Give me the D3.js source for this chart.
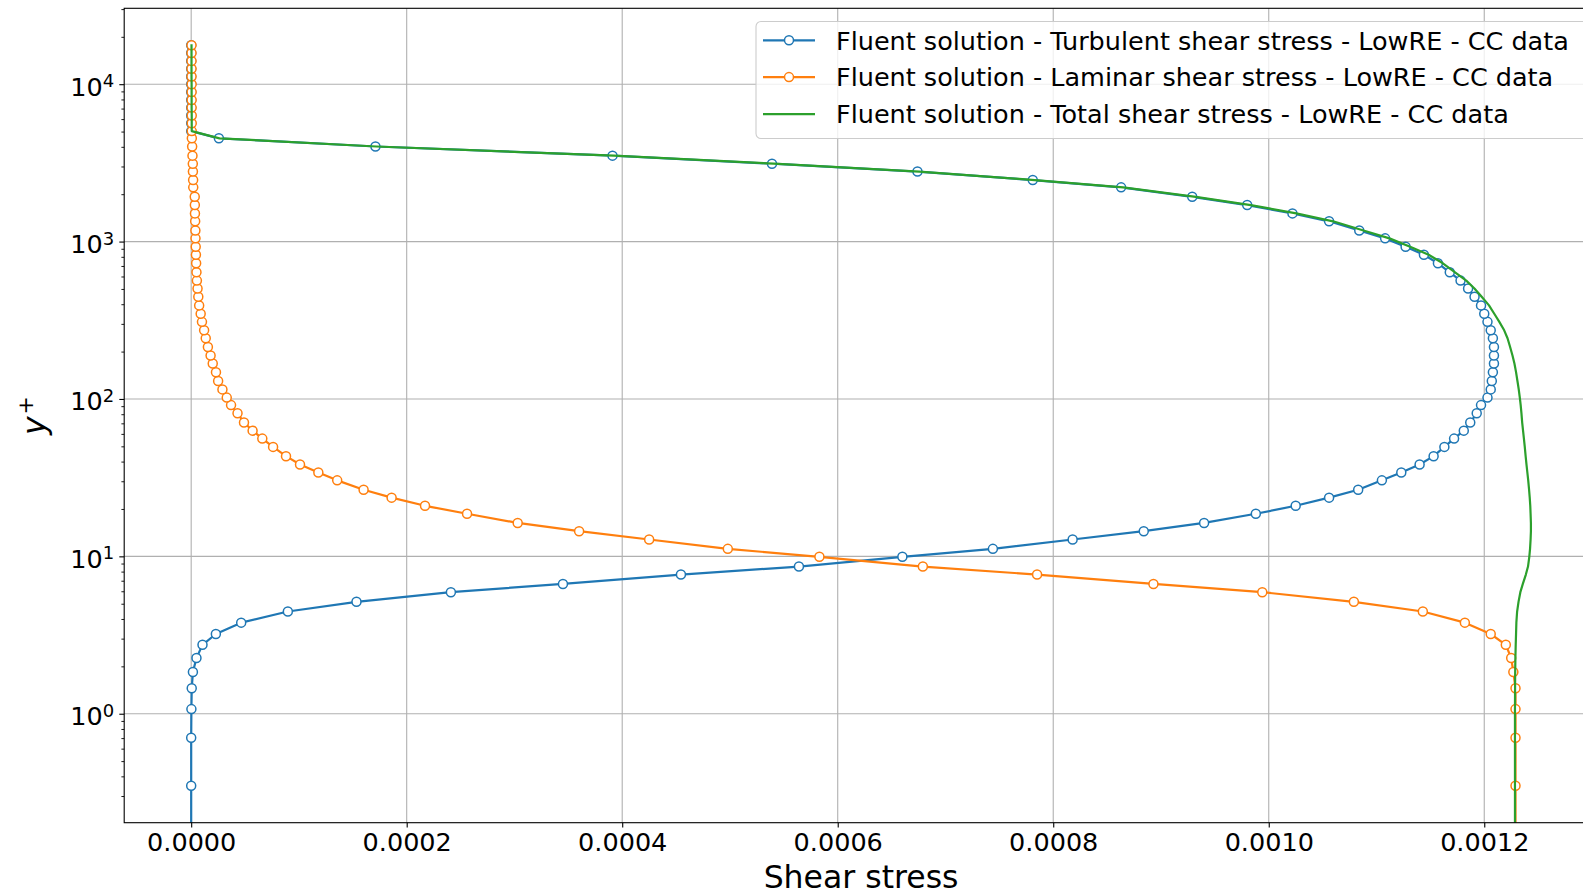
<!DOCTYPE html>
<html>
<head>
<meta charset="utf-8">
<script src="https://cdn.jsdelivr.net/npm/d3@7"></script>
<style>
  body { margin: 0; background: #fff; }
  svg { display: block; font-family: "DejaVu Sans", sans-serif; }
</style>
</head>
<body>
<div id="chart"></div>
<script>
// y+ of the cell centres (same grid for every series), first entry is the wall
var yPlus = [
  0,
  0.349, 0.704, 1.07, 1.45, 1.84, 2.26, 2.74, 3.21, 3.79, 4.46,
  5.14, 5.92, 6.68, 7.66, 8.61, 9.93, 11.16, 12.8, 14.45, 16.3,
  18.65, 20.95, 23.6, 26.5, 30.4, 34.1, 38.3, 43.3, 49.6, 56.0,
  62.9, 70.8, 81.2, 91.4, 102, 115, 130, 148, 168, 189,
  214, 243, 273, 309, 348, 393, 446, 503, 565, 638,
  728, 825, 927, 1048, 1175, 1345, 1510, 1706, 1925, 2210,
  2460, 2785, 3125, 3515, 4020, 4530,
  5035, 5645, 6330, 7100, 7945, 8910, 9980, 11190, 12530, 14060, 15780, 17660
];

// Turbulent shear stress
var turbulent = [
  0,
  0, 0, 0.0000002, 0.0000005, 0.0000016, 0.0000049, 0.0000105, 0.0000229, 0.0000464, 0.0000897,
  0.0001534, 0.000241, 0.000345, 0.0004545, 0.000564, 0.00066, 0.000744, 0.000818, 0.000884, 0.00094,
  0.000988, 0.001025, 0.001056, 0.001083, 0.001105, 0.001123, 0.00114, 0.001153, 0.001163, 0.001172,
  0.001181, 0.001187, 0.001193, 0.001197, 0.001203, 0.001206, 0.001207, 0.001208, 0.001209, 0.001209,
  0.001209, 0.001208, 0.001206, 0.001203, 0.0012, 0.001197, 0.001191, 0.001185, 0.001178, 0.001168,
  0.001157, 0.001144, 0.001127, 0.001108, 0.001084, 0.001056, 0.001022, 0.00098, 0.000929, 0.000863,
  0.000781, 0.000674, 0.000539, 0.000391, 0.000171, 0.0000257,
  0, 0, 0, 0, 0, 0, 0, 0, 0, 0, 0, 0
];

// Laminar shear stress
var laminar = [
  0.001229,
  0.001229, 0.001229, 0.001229, 0.001229, 0.001227, 0.001225, 0.00122, 0.001206, 0.001182, 0.001143,
  0.001079, 0.000994, 0.000893, 0.000785, 0.000679, 0.000583, 0.000498, 0.000425, 0.00036, 0.000303,
  0.000256, 0.000217, 0.000186, 0.00016, 0.0001355, 0.000118, 0.000101, 0.000088, 0.000076, 0.000066,
  0.000057, 0.000049, 0.000043, 0.000037, 0.000033, 0.000029, 0.000025, 0.000023, 0.00002, 0.000018,
  0.0000155, 0.0000135, 0.000012, 0.00001, 0.0000088, 0.0000074, 0.0000066, 0.0000059, 0.0000053, 0.0000049,
  0.0000046, 0.0000044, 0.0000042, 0.000004, 0.0000039, 0.0000037, 0.0000035, 0.0000034, 0.0000033, 0.0000019,
  0.0000018, 0.0000016, 0.0000015, 0.0000012, 0.0000009, 0.0000006,
  0.0000005, 0.0000005, 0.0000005, 0.0000004, 0.0000004, 0.0000004, 0.0000004, 0.0000003, 0.0000003, 0.0000003, 0.0000003, 0.0000003
];

// Total shear stress
var total = [
  0.0012285,
  0.0012285, 0.0012285, 0.0012285, 0.0012286, 0.0012287, 0.0012289, 0.0012292, 0.0012295, 0.0012298, 0.0012305,
  0.0012318, 0.0012335, 0.0012358, 0.0012386, 0.0012406, 0.0012418, 0.0012425, 0.001243, 0.0012433, 0.0012433,
  0.001243, 0.0012427, 0.0012422, 0.0012416, 0.0012408, 0.00124, 0.0012392, 0.0012384, 0.0012376, 0.0012368,
  0.001236, 0.0012352, 0.0012345, 0.0012338, 0.001233, 0.001232, 0.0012308, 0.0012295, 0.001228, 0.0012262,
  0.001224, 0.0012216, 0.0012185, 0.001214, 0.0012093, 0.0012044, 0.0011976, 0.0011909, 0.0011833, 0.0011729,
  0.0011616, 0.0011484, 0.0011312, 0.001112, 0.0010879, 0.0010597, 0.0010255, 0.0009834, 0.0009323, 0.0008649,
  0.0007829, 0.0006756, 0.0005405, 0.0003922, 0.0001719, 0.0000263,
  0.0000005, 0.0000005, 0.0000005, 0.0000004, 0.0000004, 0.0000004, 0.0000004, 0.0000003, 0.0000003, 0.0000003, 0.0000003, 0.0000003
];

var xTicks = [0, 0.0002, 0.0004, 0.0006, 0.0008, 0.0010, 0.0012];
var yTicks = [1, 10, 100, 1000, 10000];
var yTickExp = ["0", "1", "2", "3", "4"];

var seriesNames = [
  "Fluent solution - Turbulent shear stress - LowRE - CC data",
  "Fluent solution - Laminar shear stress - LowRE - CC data",
  "Fluent solution - Total shear stress - LowRE - CC data"
];
var seriesColors = ["#1f77b4", "#ff7f0e", "#2ca02c"];

// set the dimensions and margins of the graph
var W = 1583, H = 894;
var margin = {top: 8.3, left: 124.2},
    width = 1473.7,
    height = 814.4;

var tickFont = 25.5;

var svg = d3.select("#chart")
  .append("svg")
    .attr("width", W)
    .attr("height", H);

// scales, with 5% margins like matplotlib (wall point y+=0 left out of the log range)
var xMax = d3.max(total), xMin = 0;
var xPad = 0.05 * (xMax - xMin);
var x = d3.scaleLinear()
  .domain([xMin - xPad, xMax + xPad])
  .range([margin.left, margin.left + width]);

var posY = yPlus.filter(function(v) { return v > 0; });
var lyMin = Math.log10(d3.min(posY)), lyMax = Math.log10(d3.max(posY));
var lyPad = 0.05 * (lyMax - lyMin);
var y = d3.scaleLog()
  .domain([Math.pow(10, lyMin - lyPad), Math.pow(10, lyMax + lyPad)])
  .range([margin.top + height, margin.top]);

// non positive values go far below the axis, like matplotlib's clipping
function yPos(v) { return y(Math.max(v, 1e-3)); }

// grid
var grid = svg.append("g").attr("stroke", "#b0b0b0").attr("stroke-width", 1.1);
grid.selectAll(".gx").data(xTicks).enter().append("line")
  .attr("x1", function(d) { return x(d); })
  .attr("x2", function(d) { return x(d); })
  .attr("y1", margin.top)
  .attr("y2", margin.top + height);
grid.selectAll(".gy").data(yTicks).enter().append("line")
  .attr("x1", margin.left)
  .attr("x2", margin.left + width)
  .attr("y1", function(d) { return y(d); })
  .attr("y2", function(d) { return y(d); });

// clip for the data
svg.append("clipPath").attr("id", "clip")
  .append("rect")
    .attr("x", margin.left)
    .attr("y", margin.top)
    .attr("width", width)
    .attr("height", height);

var plot = svg.append("g").attr("clip-path", "url(#clip)");

function drawSeries(values, color, markers) {
  var pts = yPlus.map(function(v, i) { return [values[i], v]; });
  var line = d3.line()
    .x(function(d) { return x(d[0]); })
    .y(function(d) { return yPos(d[1]); });
  plot.append("path")
    .datum(pts)
    .attr("fill", "none")
    .attr("stroke", color)
    .attr("stroke-width", 2.2)
    .attr("stroke-linejoin", "round")
    .attr("stroke-linecap", "square")
    .attr("d", line);
  if (markers) {
    plot.append("g")
      .selectAll("circle")
      .data(pts)
      .enter()
      .append("circle")
        .attr("cx", function(d) { return x(d[0]); })
        .attr("cy", function(d) { return yPos(d[1]); })
        .attr("r", 4.5)
        .attr("fill", "#fff")
        .attr("stroke", color)
        .attr("stroke-width", 1.5);
  }
}

drawSeries(turbulent, seriesColors[0], true);
drawSeries(laminar, seriesColors[1], true);
drawSeries(total, seriesColors[2], false);

// X axis
var xAxis = svg.append("g")
  .attr("transform", "translate(0," + (margin.top + height) + ")")
  .call(d3.axisBottom(x)
    .tickValues(xTicks)
    .tickFormat(d3.format(".4f"))
    .tickSize(4.9)
    .tickPadding(5.5));
xAxis.select(".domain").remove();
xAxis.selectAll("line").attr("stroke", "#000").attr("stroke-width", 1.1);
xAxis.selectAll("text")
  .attr("font-family", "DejaVu Sans")
  .attr("font-size", tickFont)
  .attr("fill", "#000");

// Y axis, major ticks
var yAxis = svg.append("g")
  .attr("transform", "translate(" + margin.left + ",0)")
  .call(d3.axisLeft(y)
    .tickValues(yTicks)
    .tickFormat("")
    .tickSize(4.9));
yAxis.select(".domain").remove();
yAxis.selectAll("line").attr("stroke", "#000").attr("stroke-width", 1.1);

// Y axis, minor ticks
var minorTicks = [];
[0.1, 1, 10, 100, 1000, 10000].forEach(function(dec) {
  for (var k = 2; k <= 9; k++) minorTicks.push(dec * k);
});
var yDom = y.domain();
minorTicks = minorTicks.filter(function(d) { return d >= yDom[0] && d <= yDom[1]; });
var yMinor = svg.append("g")
  .attr("transform", "translate(" + margin.left + ",0)")
  .call(d3.axisLeft(y)
    .tickValues(minorTicks)
    .tickFormat("")
    .tickSize(2.8));
yMinor.select(".domain").remove();
yMinor.selectAll("line").attr("stroke", "#000").attr("stroke-width", 0.9);

// Y tick labels 10^n
var yLab = svg.append("g")
  .attr("font-family", "DejaVu Sans")
  .attr("fill", "#000");
yTicks.forEach(function(t, i) {
  var txt = yLab.append("text")
    .attr("x", margin.left - 10)
    .attr("y", y(t) + 11.5)
    .attr("text-anchor", "end")
    .attr("font-size", tickFont);
  txt.append("tspan").text("10");
  txt.append("tspan")
    .attr("font-size", 18)
    .attr("dy", -8.5)
    .text(yTickExp[i]);
});

// spines
svg.append("rect")
  .attr("x", margin.left)
  .attr("y", margin.top)
  .attr("width", width)
  .attr("height", height)
  .attr("fill", "none")
  .attr("stroke", "#000")
  .attr("stroke-width", 1.1);

// axis labels
svg.append("text")
  .attr("x", margin.left + width / 2)
  .attr("y", 887.5)
  .attr("text-anchor", "middle")
  .attr("font-size", 31.5)
  .attr("fill", "#000")
  .text("Shear stress");

var yl = svg.append("text")
  .attr("transform", "translate(45," + (margin.top + height / 2) + ") rotate(-90)")
  .attr("text-anchor", "middle")
  .attr("font-size", 31.5)
  .attr("fill", "#000");
yl.append("tspan").attr("font-style", "italic").text("y");
yl.append("tspan").attr("font-size", 22).attr("dx", 2).attr("dy", -12).text("+");

// legend
var legend = svg.append("g").attr("transform", "translate(756,21.5)");
legend.append("rect")
  .attr("x", 0)
  .attr("y", 0)
  .attr("width", 900)
  .attr("height", 117)
  .attr("rx", 5)
  .attr("fill", "#fff")
  .attr("fill-opacity", 0.8)
  .attr("stroke", "#cccccc")
  .attr("stroke-width", 1.1);

var rowY = [18.8, 55.6, 92.6];
seriesNames.forEach(function(name, i) {
  var row = legend.append("g").attr("transform", "translate(0," + rowY[i] + ")");
  row.append("line")
    .attr("x1", 7)
    .attr("x2", 59)
    .attr("stroke", seriesColors[i])
    .attr("stroke-width", 2.2);
  if (i < 2) {
    row.append("circle")
      .attr("cx", 33)
      .attr("r", 4.5)
      .attr("fill", "#fff")
      .attr("stroke", seriesColors[i])
      .attr("stroke-width", 1.5);
  }
  row.append("text")
    .attr("x", 80)
    .attr("y", 9.3)
    .attr("font-size", tickFont)
    .attr("fill", "#000")
    .text(name);
});
</script>
</body>
</html>
